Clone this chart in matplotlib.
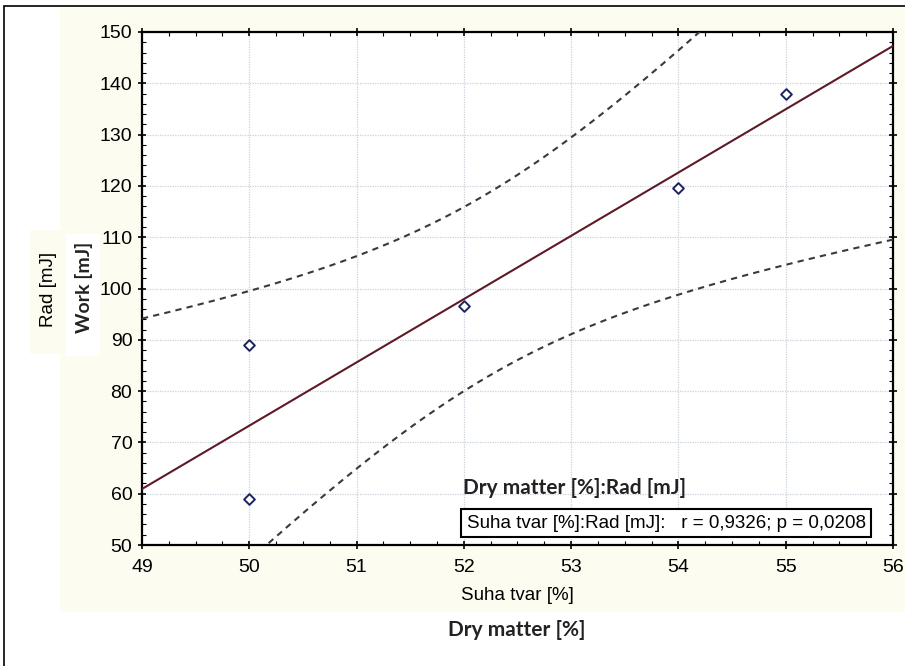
import numpy as np
import matplotlib
matplotlib.use("Agg")
import matplotlib.pyplot as plt
from matplotlib.patches import Rectangle
from matplotlib.ticker import MultipleLocator

# data
dry_matter = np.array([50, 50, 52, 54, 55])
work = np.array([89, 59, 96.5, 119.5, 138])
t_crit = 3.182  # t(0.975, df=3)

W, H = 905, 666


def fx(x):
    return x / W


def fy(y):
    return 1 - y / H


def rect(fig, x0, y0, x1, y1, color, z=0, **kw):
    fig.patches.append(Rectangle((fx(x0), fy(y1)), fx(x1) - fx(x0), fy(y0) - fy(y1),
                                 transform=fig.transFigure, facecolor=color,
                                 zorder=z, **kw))


fig = plt.figure(figsize=(W / 100, H / 100), dpi=100)
fig.patch.set_facecolor("white")

# background panels
rect(fig, 60, 8, 910, 612, "#fdfcf0", z=-5)
rect(fig, 30, 230, 66, 354, "#fdfcf0", z=-4)
rect(fig, 66, 234, 100, 356, "white", z=-3)
rect(fig, 4, 6, 912, 672, "none", z=-2, edgecolor="black", linewidth=1.2)

ax = fig.add_axes([fx(142), fy(545), fx(893) - fx(142), fy(32) - fy(545)])
ax.set_facecolor("white")

# regression + 95% confidence band
n = len(dry_matter)
xm, ym = dry_matter.mean(), work.mean()
sxx = ((dry_matter - xm) ** 2).sum()
slope = ((dry_matter - xm) * (work - ym)).sum() / sxx
icpt = ym - slope * xm
resid = work - (icpt + slope * dry_matter)
s = np.sqrt((resid ** 2).sum() / (n - 2))

xs = np.linspace(49, 56, 300)
yfit = icpt + slope * xs
half = t_crit * s * np.sqrt(1 / n + (xs - xm) ** 2 / sxx)

ax.plot(xs, yfit, color="#5e1a26", lw=1.5, zorder=3)
ax.plot(xs, yfit + half, color="#3a3a3a", lw=1.5, ls=(0, (3, 2.5)), zorder=3)
ax.plot(xs, yfit - half, color="#3a3a3a", lw=1.5, ls=(0, (3, 2.5)), zorder=3)
ax.scatter(dry_matter, work, marker="D", s=30, facecolors="white",
           edgecolors="#1c2460", linewidths=1.4, zorder=4)

ax.set_xlim(49, 56)
ax.set_ylim(50, 150)
ax.xaxis.set_major_locator(MultipleLocator(1))
ax.xaxis.set_minor_locator(MultipleLocator(0.25))
ax.yaxis.set_major_locator(MultipleLocator(10))
ax.yaxis.set_minor_locator(MultipleLocator(2))
ax.grid(True, which="major", color="#c9d2da", lw=0.9, ls=(0, (1, 1)))
ax.set_axisbelow(True)
for sp in ax.spines.values():
    sp.set_linewidth(1.6)
ax.tick_params(which="major", direction="inout", length=6, width=1.2,
               top=True, right=True, labelsize=14)
ax.tick_params(axis="x", pad=7)
ax.tick_params(axis="y", pad=4)
ax.tick_params(which="minor", direction="in", length=3, width=0.8,
               top=True, right=True)
for lab in ax.get_xticklabels() + ax.get_yticklabels():
    lab.set_fontfamily("Liberation Sans")

# axis titles
fig.text(fx(48), fy(289), "Rad [mJ]", rotation=90, ha="center", va="center",
         fontsize=13.5, family="Liberation Sans")
fig.text(fx(84), fy(287), "Work [mJ]", rotation=90, ha="center", va="center",
         fontsize=14, family="Lato", weight="bold", color="#222222")
fig.text(fx(517), fy(596), "Suha tvar [%]", ha="center", va="center",
         fontsize=13.5, family="Liberation Sans")
fig.text(fx(517), fy(630), "Dry matter [%]", ha="center", va="center",
         fontsize=15, family="Lato", weight="bold", color="#222222")

# legend title and box
fig.text(fx(575), fy(488), "Dry matter [%]:Rad [mJ]", ha="center", va="center",
         fontsize=15, family="Lato", weight="bold", color="#222222", zorder=6)
fig.text(fx(666), fy(523), "Suha tvar [%]:Rad [mJ]:   r = 0,9326; p = 0,0208",
         ha="center", va="center", fontsize=13.5, family="Liberation Sans", zorder=6,
         bbox=dict(boxstyle="square,pad=0.3", fc="white", ec="black", lw=1.5))

fig.savefig("out.png", dpi=100)
